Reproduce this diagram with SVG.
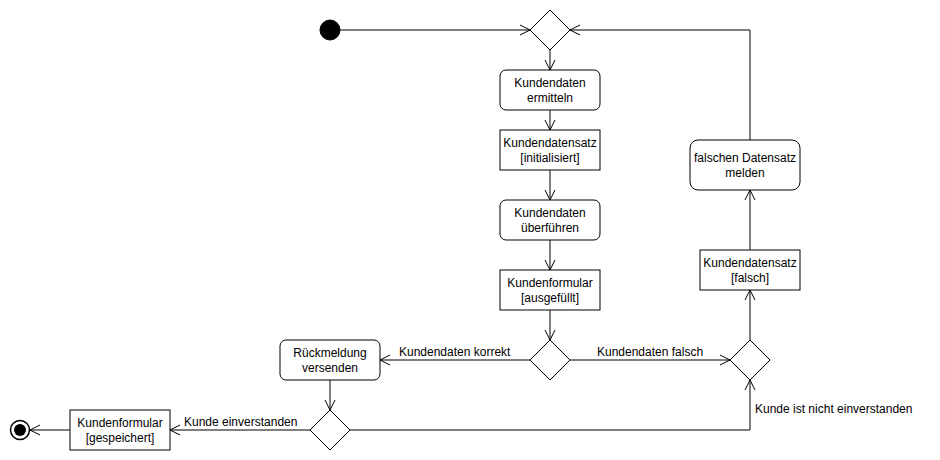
<svg xmlns="http://www.w3.org/2000/svg" width="940" height="460" viewBox="0 0 940 460">
<style>
  .n { fill: #ffffff; stroke: #000000; stroke-width: 1; }
  .t { font-family: "Liberation Sans", Arial, sans-serif; font-size: 12px; fill: #000000; text-anchor: middle; }
  .lbl { font-family: "Liberation Sans", Arial, sans-serif; font-size: 12px; fill: #000000; }
  .e { fill: none; stroke: #000000; stroke-width: 1; marker-end: url(#open); }
</style>
<defs>
  <marker id="open" markerUnits="userSpaceOnUse" markerWidth="14" markerHeight="14" viewBox="-12 -7 14 14" refX="0" refY="0" orient="auto">
    <path d="M-10,-5 L0,0 L-10,5" fill="none" stroke="#000000" stroke-width="1"/>
  </marker>
</defs>
<rect width="940" height="460" fill="#ffffff"/>

<g id="connectors">
  <path class="e" d="M340,30 L530,30"/>
  <path class="e" d="M550,50 L550,70"/>
  <path class="e" d="M550,110 L550,130"/>
  <path class="e" d="M550,170 L550,200"/>
  <path class="e" d="M550,240 L550,270"/>
  <path class="e" d="M550,310 L550,340"/>
  <path class="e" d="M530,360 L380,360"/>
  <path class="e" d="M570,360 L730,360"/>
  <path class="e" d="M330,380 L330,410"/>
  <path class="e" d="M310,430 L170,430"/>
  <path class="e" d="M70,430 L30,430"/>
  <path class="e" d="M350,430 L750,430 L750,380"/>
  <path class="e" d="M750,340 L750,290"/>
  <path class="e" d="M750,250 L750,190"/>
  <path class="e" d="M750,140 L750,30 L570,30"/>
  <text class="lbl" x="399" y="356">Kundendaten korrekt</text>
  <text class="lbl" x="597" y="356">Kundendaten falsch</text>
  <text class="lbl" x="184" y="426">Kunde einverstanden</text>
  <text class="lbl" x="755" y="413">Kunde ist nicht einverstanden</text>
</g>

<g id="start"><circle cx="330" cy="30" r="10" fill="#000000" stroke="#000000"/></g>
<g id="merge1"><path class="n" d="M550,10 L570,30 L550,50 L530,30 Z"/></g>
<g id="ermitteln"><rect class="n" x="500" y="70" width="100" height="40" rx="6"/><text class="t" x="550" y="87">Kundendaten</text><text class="t" x="550" y="102">ermitteln</text></g>
<g id="datensatzInit"><rect class="n" x="500" y="130" width="100" height="40"/><text class="t" x="550" y="147">Kundendatensatz</text><text class="t" x="550" y="162">[initialisiert]</text></g>
<g id="ueberfuehren"><rect class="n" x="500" y="200" width="100" height="40" rx="6"/><text class="t" x="550" y="217">Kundendaten</text><text class="t" x="550" y="232">überführen</text></g>
<g id="formularAusgefuellt"><rect class="n" x="500" y="270" width="100" height="40"/><text class="t" x="550" y="287">Kundenformular</text><text class="t" x="550" y="302">[ausgefüllt]</text></g>
<g id="decision1"><path class="n" d="M550,340 L570,360 L550,380 L530,360 Z"/></g>
<g id="rueckmeldung"><rect class="n" x="280" y="340" width="100" height="40" rx="6"/><text class="t" x="330" y="357">Rückmeldung</text><text class="t" x="330" y="372">versenden</text></g>
<g id="decision2"><path class="n" d="M330,410 L350,430 L330,450 L310,430 Z"/></g>
<g id="formularGespeichert"><rect class="n" x="70" y="410" width="100" height="40"/><text class="t" x="120" y="427">Kundenformular</text><text class="t" x="120" y="442">[gespeichert]</text></g>
<g id="end"><circle cx="20" cy="430" r="9.5" fill="#ffffff" stroke="#000000" stroke-width="1.5"/><circle cx="20" cy="430" r="6" fill="#000000"/></g>
<g id="merge2"><path class="n" d="M750,340 L770,360 L750,380 L730,360 Z"/></g>
<g id="datensatzFalsch"><rect class="n" x="700" y="250" width="100" height="40"/><text class="t" x="750" y="267">Kundendatensatz</text><text class="t" x="750" y="282">[falsch]</text></g>
<g id="falschMelden"><rect class="n" x="690" y="140" width="110" height="50" rx="8"/><text class="t" x="745" y="162">falschen Datensatz</text><text class="t" x="745" y="177">melden</text></g>
</svg>
